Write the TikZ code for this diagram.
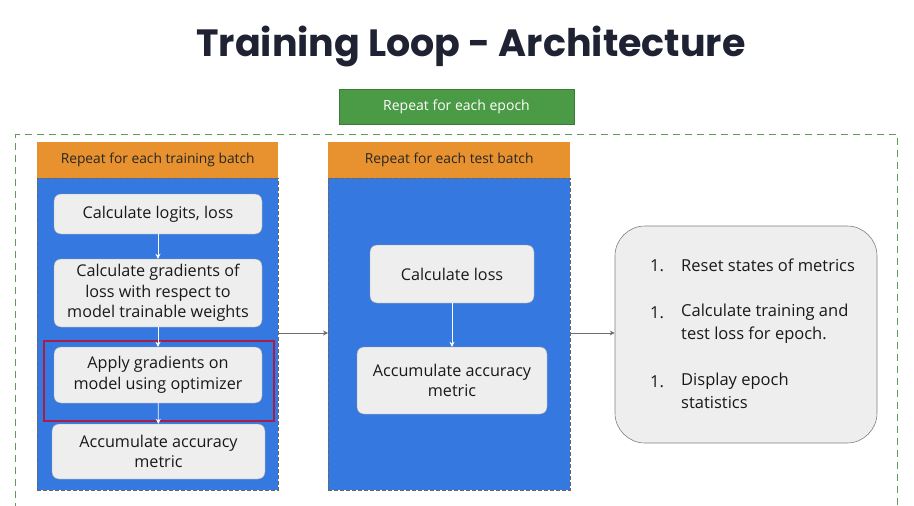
\documentclass[tikz,border=0pt]{standalone}
\usepackage{fontspec}
\setmainfont{Open Sans}
\newfontfamily\titlefont{Poppins}
\usetikzlibrary{arrows.meta}
\definecolor{titlec}{HTML}{1F2233}
\definecolor{greenb}{HTML}{4B9A45}
\definecolor{dashg}{HTML}{5E9C58}
\definecolor{orangeh}{HTML}{E8922F}
\definecolor{bluep}{HTML}{3578DF}
\definecolor{boxg}{HTML}{EEEEEE}
\definecolor{redr}{HTML}{A81E48}
\definecolor{arrg}{HTML}{6E6E6E}
\tikzset{
  header/.style={fill=orangeh, draw=none, inner sep=0pt, font=\fontsize{13.8}{15}\selectfont, text=black!85},
  panel/.style={fill=bluep, draw=black!60, dashed, dash pattern=on 4pt off 2pt, line width=0.8pt, inner sep=0pt},
  stepbox/.style={fill=boxg, draw=black!35, line width=0.4pt, rounded corners=7pt, inner sep=0pt, align=center, font=\fontsize{16.2}{20.5}\selectfont, text=black!90},
  warr/.style={draw=white, line width=0.7pt, -{Stealth[length=5pt,width=5pt]}},
  garr/.style={draw=arrg, line width=0.7pt, -{Stealth[length=5pt,width=5pt]}},
}
\begin{document}
\begin{tikzpicture}[x=1pt,y=-1pt]
\useasboundingbox (0,0) rectangle (914,506);
\fill[white] (0,0) rectangle (914,506);
% title
\node (title) at (471,47) {\titlefont\bfseries\fontsize{38}{40}\selectfont\color{titlec}Training Loop - Architecture};
% epoch box
\node[fill=greenb, draw=greenb!80!black, line width=0.3pt, minimum width=235pt, minimum height=35pt, inner sep=0pt, text=white, font=\fontsize{14}{16}\selectfont] (epoch) at (456.5,106.5) {Repeat for each epoch};
% outer dashed
\node[draw=dashg, dash pattern=on 7pt off 5pt, line width=1.1pt, minimum width=882pt, minimum height=400pt, inner sep=0pt, anchor=north west] (outer) at (15,134) {};
% panels
\node[panel, minimum width=241pt, minimum height=312pt, anchor=north west] (p1) at (37,178) {};
\node[panel, minimum width=242pt, minimum height=312pt, anchor=north west] (p2) at (328,178) {};
\node[header, minimum width=241pt, minimum height=36pt, anchor=north west] (h1) at (37,142) {Repeat for each training batch};
\node[header, minimum width=242pt, minimum height=36pt, anchor=north west] (h2) at (328,142) {Repeat for each test batch};
% red highlight
\node[draw=redr, line width=2pt, minimum width=230pt, minimum height=80pt, inner sep=0pt, anchor=north west] (hl) at (43,340) {};
% panel 1 boxes
\node[stepbox, minimum width=208pt, minimum height=40pt] (a1) at (158,214) {Calculate logits, loss};
\node[stepbox, minimum width=208pt, minimum height=68pt] (a2) at (158,293) {Calculate gradients of\\loss with respect to\\model trainable weights};
\node[stepbox, minimum width=208pt, minimum height=56pt] (a3) at (158,375) {Apply gradients on\\model using optimizer};
\node[stepbox, minimum width=213pt, minimum height=55pt] (a4) at (158.5,451.5) {Accumulate accuracy\\metric};
\draw[warr] (a1) -- (a2);
\draw[warr] (a2) -- (a3);
\draw[warr] (a3) -- (a4);
% panel 2 boxes
\node[stepbox, minimum width=164pt, minimum height=58pt] (b1) at (452,274) {Calculate loss};
\node[stepbox, minimum width=190pt, minimum height=67pt] (b2) at (452,380.5) {Accumulate accuracy\\metric};
\draw[warr] (b1) -- (b2);
% result box
\node[fill=boxg, draw=black!50, line width=0.6pt, rounded corners=30pt, minimum width=262pt, minimum height=217pt, inner sep=0pt] (res) at (746,334.5) {};
\begin{scope}[every node/.style={anchor=base west, inner sep=0pt, font=\fontsize{16.5}{23}\selectfont, text=black!90}]
\node (n1) at (650,271) {1.};
\node (t1) at (681,271) {Reset states of metrics};
\node (n2) at (650,318) {1.};
\node[align=left, anchor=north west] (t2) at (681,303.5) {Calculate training and\\test loss for epoch.};
\node (n3) at (650,387) {1.};
\node[align=left, anchor=north west] (t3) at (681,372.5) {Display epoch\\statistics};
\end{scope}
% gray connectors
\coordinate (c1) at (278,333);
\coordinate (c2) at (328,333);
\coordinate (c3) at (570,333);
\draw[garr] (c1) -- (c2);
\draw[garr] (c3) -- (res.west |- c3);
\end{tikzpicture}
\end{document}
